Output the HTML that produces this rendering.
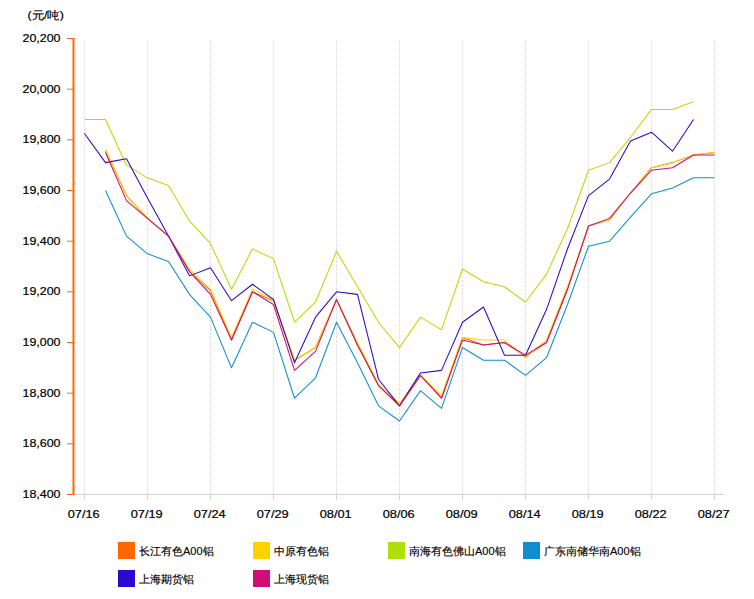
<!DOCTYPE html>
<html><head><meta charset="utf-8"><style>
html,body{margin:0;padding:0;background:#fff;width:754px;height:599px;overflow:hidden}
svg{display:block}
text{font-family:"Liberation Sans",sans-serif;fill:#000}
.yl,.xl{font-size:11px;stroke:#000;stroke-width:0.2}
.lg{font-size:11px;stroke:#000;stroke-width:0.15}
.g{stroke:#d6d6d6;stroke-width:1;stroke-dasharray:2 2}
.gt{stroke:#d4d4d4;stroke-width:1}
.yt{stroke:#FF6600;stroke-width:1}
.lines path{fill:none;stroke-width:1.05;stroke-linejoin:round;stroke-linecap:butt}
</style></head><body>
<svg width="754" height="599" viewBox="0 0 754 599">
<text x="27.5" y="19" style="font-size:11px;stroke:#000;stroke-width:0.2" textLength="36.5" lengthAdjust="spacingAndGlyphs">(元/吨)</text>
<line x1="84.5" y1="40.5" x2="84.5" y2="494" class="g"/>
<line x1="84.5" y1="494" x2="84.5" y2="500" class="gt"/>
<line x1="147.5" y1="40.5" x2="147.5" y2="494" class="g"/>
<line x1="147.5" y1="494" x2="147.5" y2="500" class="gt"/>
<line x1="210.5" y1="40.5" x2="210.5" y2="494" class="g"/>
<line x1="210.5" y1="494" x2="210.5" y2="500" class="gt"/>
<line x1="273.5" y1="40.5" x2="273.5" y2="494" class="g"/>
<line x1="273.5" y1="494" x2="273.5" y2="500" class="gt"/>
<line x1="336.5" y1="40.5" x2="336.5" y2="494" class="g"/>
<line x1="336.5" y1="494" x2="336.5" y2="500" class="gt"/>
<line x1="399.5" y1="40.5" x2="399.5" y2="494" class="g"/>
<line x1="399.5" y1="494" x2="399.5" y2="500" class="gt"/>
<line x1="462.5" y1="40.5" x2="462.5" y2="494" class="g"/>
<line x1="462.5" y1="494" x2="462.5" y2="500" class="gt"/>
<line x1="525.5" y1="40.5" x2="525.5" y2="494" class="g"/>
<line x1="525.5" y1="494" x2="525.5" y2="500" class="gt"/>
<line x1="588.5" y1="40.5" x2="588.5" y2="494" class="g"/>
<line x1="588.5" y1="494" x2="588.5" y2="500" class="gt"/>
<line x1="651.5" y1="40.5" x2="651.5" y2="494" class="g"/>
<line x1="651.5" y1="494" x2="651.5" y2="500" class="gt"/>
<line x1="714.5" y1="40.5" x2="714.5" y2="494" class="g"/>
<line x1="714.5" y1="494" x2="714.5" y2="500" class="gt"/>
<line x1="74" y1="494.5" x2="724" y2="494.5" stroke="#d4d4d4" stroke-width="1"/>
<line x1="73.5" y1="38" x2="73.5" y2="495" stroke="#FF6600" stroke-width="2"/>
<line x1="67" y1="38.50" x2="73" y2="38.50" class="yt"/>
<text x="60.5" y="42.00" class="yl" text-anchor="end" textLength="38" lengthAdjust="spacingAndGlyphs">20,200</text>
<line x1="67" y1="89.17" x2="73" y2="89.17" class="yt"/>
<text x="60.5" y="92.67" class="yl" text-anchor="end" textLength="38" lengthAdjust="spacingAndGlyphs">20,000</text>
<line x1="67" y1="139.83" x2="73" y2="139.83" class="yt"/>
<text x="60.5" y="143.33" class="yl" text-anchor="end" textLength="38" lengthAdjust="spacingAndGlyphs">19,800</text>
<line x1="67" y1="190.50" x2="73" y2="190.50" class="yt"/>
<text x="60.5" y="194.00" class="yl" text-anchor="end" textLength="38" lengthAdjust="spacingAndGlyphs">19,600</text>
<line x1="67" y1="241.17" x2="73" y2="241.17" class="yt"/>
<text x="60.5" y="244.67" class="yl" text-anchor="end" textLength="38" lengthAdjust="spacingAndGlyphs">19,400</text>
<line x1="67" y1="291.83" x2="73" y2="291.83" class="yt"/>
<text x="60.5" y="295.33" class="yl" text-anchor="end" textLength="38" lengthAdjust="spacingAndGlyphs">19,200</text>
<line x1="67" y1="342.50" x2="73" y2="342.50" class="yt"/>
<text x="60.5" y="346.00" class="yl" text-anchor="end" textLength="38" lengthAdjust="spacingAndGlyphs">19,000</text>
<line x1="67" y1="393.17" x2="73" y2="393.17" class="yt"/>
<text x="60.5" y="396.67" class="yl" text-anchor="end" textLength="38" lengthAdjust="spacingAndGlyphs">18,800</text>
<line x1="67" y1="443.83" x2="73" y2="443.83" class="yt"/>
<text x="60.5" y="447.33" class="yl" text-anchor="end" textLength="38" lengthAdjust="spacingAndGlyphs">18,600</text>
<line x1="67" y1="494.50" x2="73" y2="494.50" class="yt"/>
<text x="60.5" y="498.00" class="yl" text-anchor="end" textLength="38" lengthAdjust="spacingAndGlyphs">18,400</text>
<text x="83.7" y="518" class="xl" text-anchor="middle" textLength="32" lengthAdjust="spacingAndGlyphs">07/16</text>
<text x="146.7" y="518" class="xl" text-anchor="middle" textLength="32" lengthAdjust="spacingAndGlyphs">07/19</text>
<text x="209.7" y="518" class="xl" text-anchor="middle" textLength="32" lengthAdjust="spacingAndGlyphs">07/24</text>
<text x="272.7" y="518" class="xl" text-anchor="middle" textLength="32" lengthAdjust="spacingAndGlyphs">07/29</text>
<text x="335.7" y="518" class="xl" text-anchor="middle" textLength="32" lengthAdjust="spacingAndGlyphs">08/01</text>
<text x="398.7" y="518" class="xl" text-anchor="middle" textLength="32" lengthAdjust="spacingAndGlyphs">08/06</text>
<text x="461.7" y="518" class="xl" text-anchor="middle" textLength="32" lengthAdjust="spacingAndGlyphs">08/09</text>
<text x="524.7" y="518" class="xl" text-anchor="middle" textLength="32" lengthAdjust="spacingAndGlyphs">08/14</text>
<text x="587.7" y="518" class="xl" text-anchor="middle" textLength="32" lengthAdjust="spacingAndGlyphs">08/19</text>
<text x="650.7" y="518" class="xl" text-anchor="middle" textLength="32" lengthAdjust="spacingAndGlyphs">08/22</text>
<text x="713.7" y="518" class="xl" text-anchor="middle" textLength="32" lengthAdjust="spacingAndGlyphs">08/27</text>
<g class="lines">
<path d="M105.5,149.97 L126.5,195.57 L147.5,218.37 L168.5,236.10 L189.5,271.57 L210.5,290.57 L231.5,339.97 L252.5,291.83 L273.5,300.70 L294.5,360.23 L315.5,347.57 L336.5,299.43 L357.5,345.03 L378.5,385.57 L399.5,405.83 L420.5,375.43 L441.5,398.23 L462.5,337.43 L483.5,345.03 L504.5,342.50 L525.5,356.43 L546.5,342.50 L567.5,289.30 L588.5,225.97 L609.5,219.63 L630.5,193.03 L651.5,167.70 L672.5,162.63 L693.5,155.03 L714.5,152.50" stroke="#FF6600"/>
<path d="M105.5,149.97 L126.5,195.57 L147.5,218.37 L168.5,236.10 L189.5,269.03 L210.5,289.30 L231.5,337.43 L252.5,289.30 L273.5,299.43 L294.5,360.23 L315.5,347.57 L336.5,299.43 L357.5,342.50 L378.5,384.30 L399.5,403.30 L420.5,375.43 L441.5,395.70 L462.5,337.43 L483.5,339.97 L504.5,339.97 L525.5,357.70 L546.5,339.97 L567.5,286.77 L588.5,225.97 L609.5,219.63 L630.5,193.03 L651.5,167.70 L672.5,162.63 L693.5,155.03 L714.5,152.50" stroke="#FCD200"/>
<path d="M84.5,119.57 L105.5,119.57 L126.5,165.17 L147.5,177.83 L168.5,185.43 L189.5,220.90 L210.5,243.70 L231.5,289.30 L252.5,248.77 L273.5,258.90 L294.5,322.23 L315.5,301.97 L336.5,251.30 L357.5,286.77 L378.5,322.23 L399.5,347.57 L420.5,317.17 L441.5,329.83 L462.5,269.03 L483.5,281.70 L504.5,286.77 L525.5,301.97 L546.5,274.10 L567.5,228.50 L588.5,170.23 L609.5,162.63 L630.5,137.30 L651.5,109.43 L672.5,109.43 L693.5,101.83" stroke="#B0DE08"/>
<path d="M105.5,190.50 L126.5,236.10 L147.5,253.83 L168.5,261.43 L189.5,294.37 L210.5,317.17 L231.5,367.83 L252.5,322.23 L273.5,332.37 L294.5,398.23 L315.5,377.97 L336.5,322.23 L357.5,362.77 L378.5,405.83 L399.5,421.03 L420.5,390.63 L441.5,408.37 L462.5,347.57 L483.5,360.23 L504.5,360.23 L525.5,375.43 L546.5,357.70 L567.5,304.50 L588.5,246.23 L609.5,241.17 L630.5,217.10 L651.5,193.79 L672.5,187.97 L693.5,177.83 L714.5,177.83" stroke="#0E8ECF"/>
<path d="M84.5,133.50 L105.5,162.63 L126.5,158.83 L147.5,198.10 L168.5,236.10 L189.5,275.87 L210.5,267.77 L231.5,300.70 L252.5,284.23 L273.5,299.43 L294.5,362.77 L315.5,317.17 L336.5,291.83 L357.5,294.37 L378.5,379.23 L399.5,405.83 L420.5,372.90 L441.5,370.37 L462.5,322.23 L483.5,307.03 L504.5,355.17 L525.5,355.17 L546.5,309.57 L567.5,248.77 L588.5,195.57 L609.5,179.10 L630.5,141.10 L651.5,132.23 L672.5,151.23 L693.5,119.57" stroke="#2A0BCD"/>
<path d="M105.5,152.50 L126.5,200.63 L147.5,218.37 L168.5,236.10 L189.5,271.57 L210.5,294.37 L231.5,339.97 L252.5,291.83 L273.5,304.50 L294.5,370.37 L315.5,351.37 L336.5,299.43 L357.5,345.03 L378.5,385.57 L399.5,405.83 L420.5,375.43 L441.5,398.23 L462.5,339.97 L483.5,345.03 L504.5,342.50 L525.5,355.17 L546.5,342.50 L567.5,289.30 L588.5,225.97 L609.5,218.37 L630.5,193.03 L651.5,170.23 L672.5,167.70 L693.5,155.03 L714.5,155.03" stroke="#CE0F74"/>
</g>
<rect x="118" y="542" width="17" height="17" fill="#FF6600"/>
<text x="139" y="555" class="lg">长江有色A00铝</text>
<rect x="253" y="542" width="17" height="17" fill="#FCD200"/>
<text x="274" y="555" class="lg">中原有色铝</text>
<rect x="388" y="542" width="17" height="17" fill="#B0DE08"/>
<text x="409" y="555" class="lg">南海有色佛山A00铝</text>
<rect x="523" y="542" width="17" height="17" fill="#0E8ECF"/>
<text x="544" y="555" class="lg">广东南储华南A00铝</text>
<rect x="118" y="570" width="17" height="17" fill="#2A0BCD"/>
<text x="139" y="583" class="lg">上海期货铝</text>
<rect x="253" y="570" width="17" height="17" fill="#CE0F74"/>
<text x="274" y="583" class="lg">上海现货铝</text>
</svg>
</body></html>
